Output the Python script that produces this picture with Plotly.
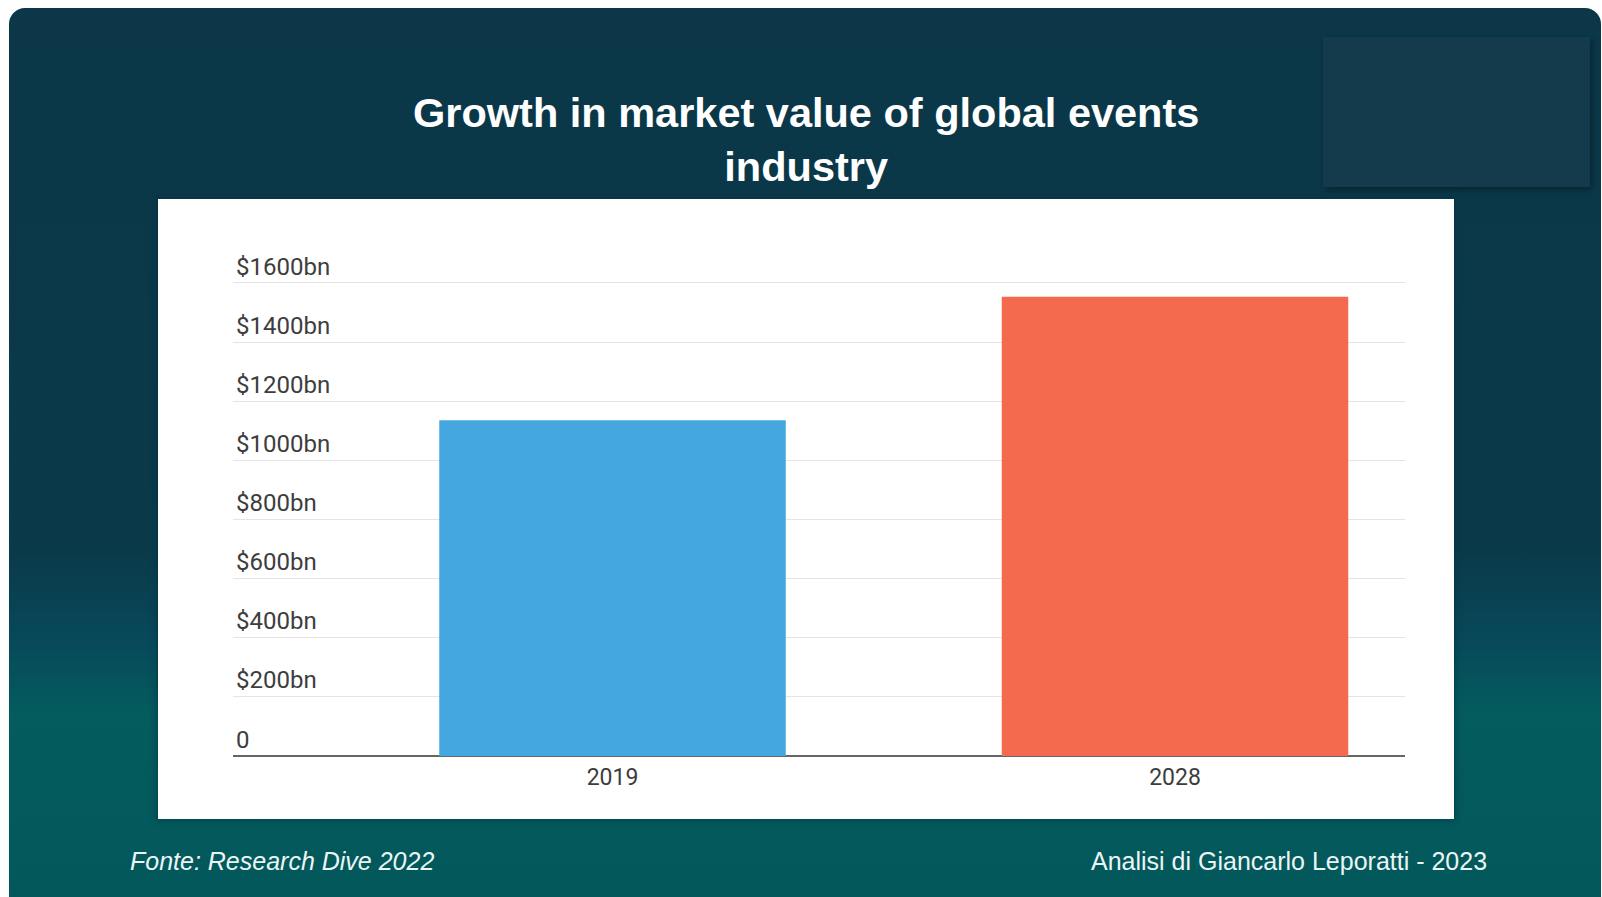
import base64
import plotly.graph_objects as go

# ---- data ----
years = ["2019", "2028"]
market_value_bn = [1135.4, 1552.9]
bar_colors = ["#44a7e0", "#f46a4e"]
y_tick_values = [0, 200, 400, 600, 800, 1000, 1200, 1400, 1600]
y_tick_labels = ["0", "$200bn", "$400bn", "$600bn", "$800bn",
                 "$1000bn", "$1200bn", "$1400bn", "$1600bn"]
y_range = [0, 1620]

title_text = "Growth in market value of global events<br>industry"
source_text = "Fonte: Research Dive 2022"
credit_text = "Analisi di Giancarlo Leporatti - 2023"

# ---- canvas geometry (pixels) ----
W, H = 1602, 897
PX_PER_UNIT = 473 / 1600          # vertical scale of the value axis
PLOT_L, PLOT_R, PLOT_B = 233, 1405, 756
PLOT_T = round(PLOT_B - PX_PER_UNIT * y_range[1])


def px_x(px):
    return (px - PLOT_L) / (PLOT_R - PLOT_L)


def px_y(py):
    return (PLOT_B - py) / (PLOT_B - PLOT_T)


# slide background: rounded gradient panel, corner box and white card
svg = f"""<svg xmlns="http://www.w3.org/2000/svg" width="{W}" height="{H}" viewBox="0 0 {W} {H}">
<defs>
<linearGradient id="bg" x1="0" y1="0" x2="0" y2="1">
<stop offset="0" stop-color="#0b3748"/>
<stop offset="0.60" stop-color="#0a3a4a"/>
<stop offset="0.70" stop-color="#07495a"/>
<stop offset="0.78" stop-color="#045c5e"/>
<stop offset="1" stop-color="#03575a"/>
</linearGradient>
<filter id="blur" x="-10%" y="-10%" width="130%" height="130%">
<feGaussianBlur stdDeviation="3"/>
</filter>
</defs>
<rect x="0" y="0" width="{W}" height="{H}" fill="#ffffff"/>
<rect x="9" y="8" width="1592" height="905" rx="16" ry="16" fill="url(#bg)"/>
<rect x="1325" y="40" width="267" height="150" fill="#000000" opacity="0.35" filter="url(#blur)"/>
<rect x="1323" y="37" width="267" height="150" fill="#143b4b"/>
<rect x="156" y="197" width="1300" height="624" fill="#06303c" opacity="0.5" filter="url(#blur)"/>
<rect x="158" y="199" width="1296" height="620" fill="#ffffff"/>
</svg>"""
svg_uri = "data:image/svg+xml;base64," + base64.b64encode(svg.encode()).decode()

fig = go.Figure()
fig.add_trace(go.Bar(
    x=years,
    y=market_value_bn,
    marker=dict(color=bar_colors, line=dict(width=0)),
    width=0.616,
    hoverinfo="x+y",
))

axis_font = dict(family="Roboto", size=24, color="#3d3d3d")

fig.update_layout(
    width=W,
    height=H,
    margin=dict(l=PLOT_L, r=W - PLOT_R, t=PLOT_T, b=H - PLOT_B, pad=0),
    paper_bgcolor="#ffffff",
    plot_bgcolor="rgba(0,0,0,0)",
    showlegend=False,
    images=[dict(
        source=svg_uri,
        xref="paper", yref="paper",
        x=px_x(0), y=px_y(0),
        sizex=W / (PLOT_R - PLOT_L), sizey=H / (PLOT_B - PLOT_T),
        xanchor="left", yanchor="top",
        sizing="stretch", layer="below",
    )],
    xaxis=dict(
        type="category",
        range=[-0.6747, 1.4089],
        showgrid=False,
        showline=False,
        zeroline=False,
        ticks="",
        ticklabelstandoff=5,
        tickfont=dict(family="Roboto", size=23, color="#3d3d3d"),
        fixedrange=True,
    ),
    yaxis=dict(
        range=y_range,
        tickvals=y_tick_values,
        ticktext=y_tick_labels,
        ticklabelposition="inside top",
        ticklabeloverflow="allow",
        ticks="",
        showgrid=True,
        gridcolor="#e4e4e4",
        gridwidth=1,
        zeroline=True,
        zerolinecolor="#666666",
        zerolinewidth=2,
        showline=False,
        tickfont=axis_font,
        fixedrange=True,
    ),
    annotations=[
        dict(text="<b>" + title_text + "</b>",
             xref="paper", yref="paper",
             x=px_x(806), y=px_y(139),
             xanchor="center", yanchor="middle",
             showarrow=False, align="center",
             font=dict(family="Liberation Sans, Arial, sans-serif", size=41.5, color="#ffffff")),
        dict(text=source_text,
             xref="paper", yref="paper",
             x=px_x(282), y=px_y(861),
             xanchor="center", yanchor="middle",
             showarrow=False,
             font=dict(family="Liberation Sans, Arial, sans-serif", size=25,
                       color="#eaf6f6", style="italic")),
        dict(text=credit_text,
             xref="paper", yref="paper",
             x=px_x(1289), y=px_y(861),
             xanchor="center", yanchor="middle",
             showarrow=False,
             font=dict(family="Liberation Sans, Arial, sans-serif", size=25, color="#eaf6f6")),
    ],
)

fig.write_html("out.html", config={"displayModeBar": False})
